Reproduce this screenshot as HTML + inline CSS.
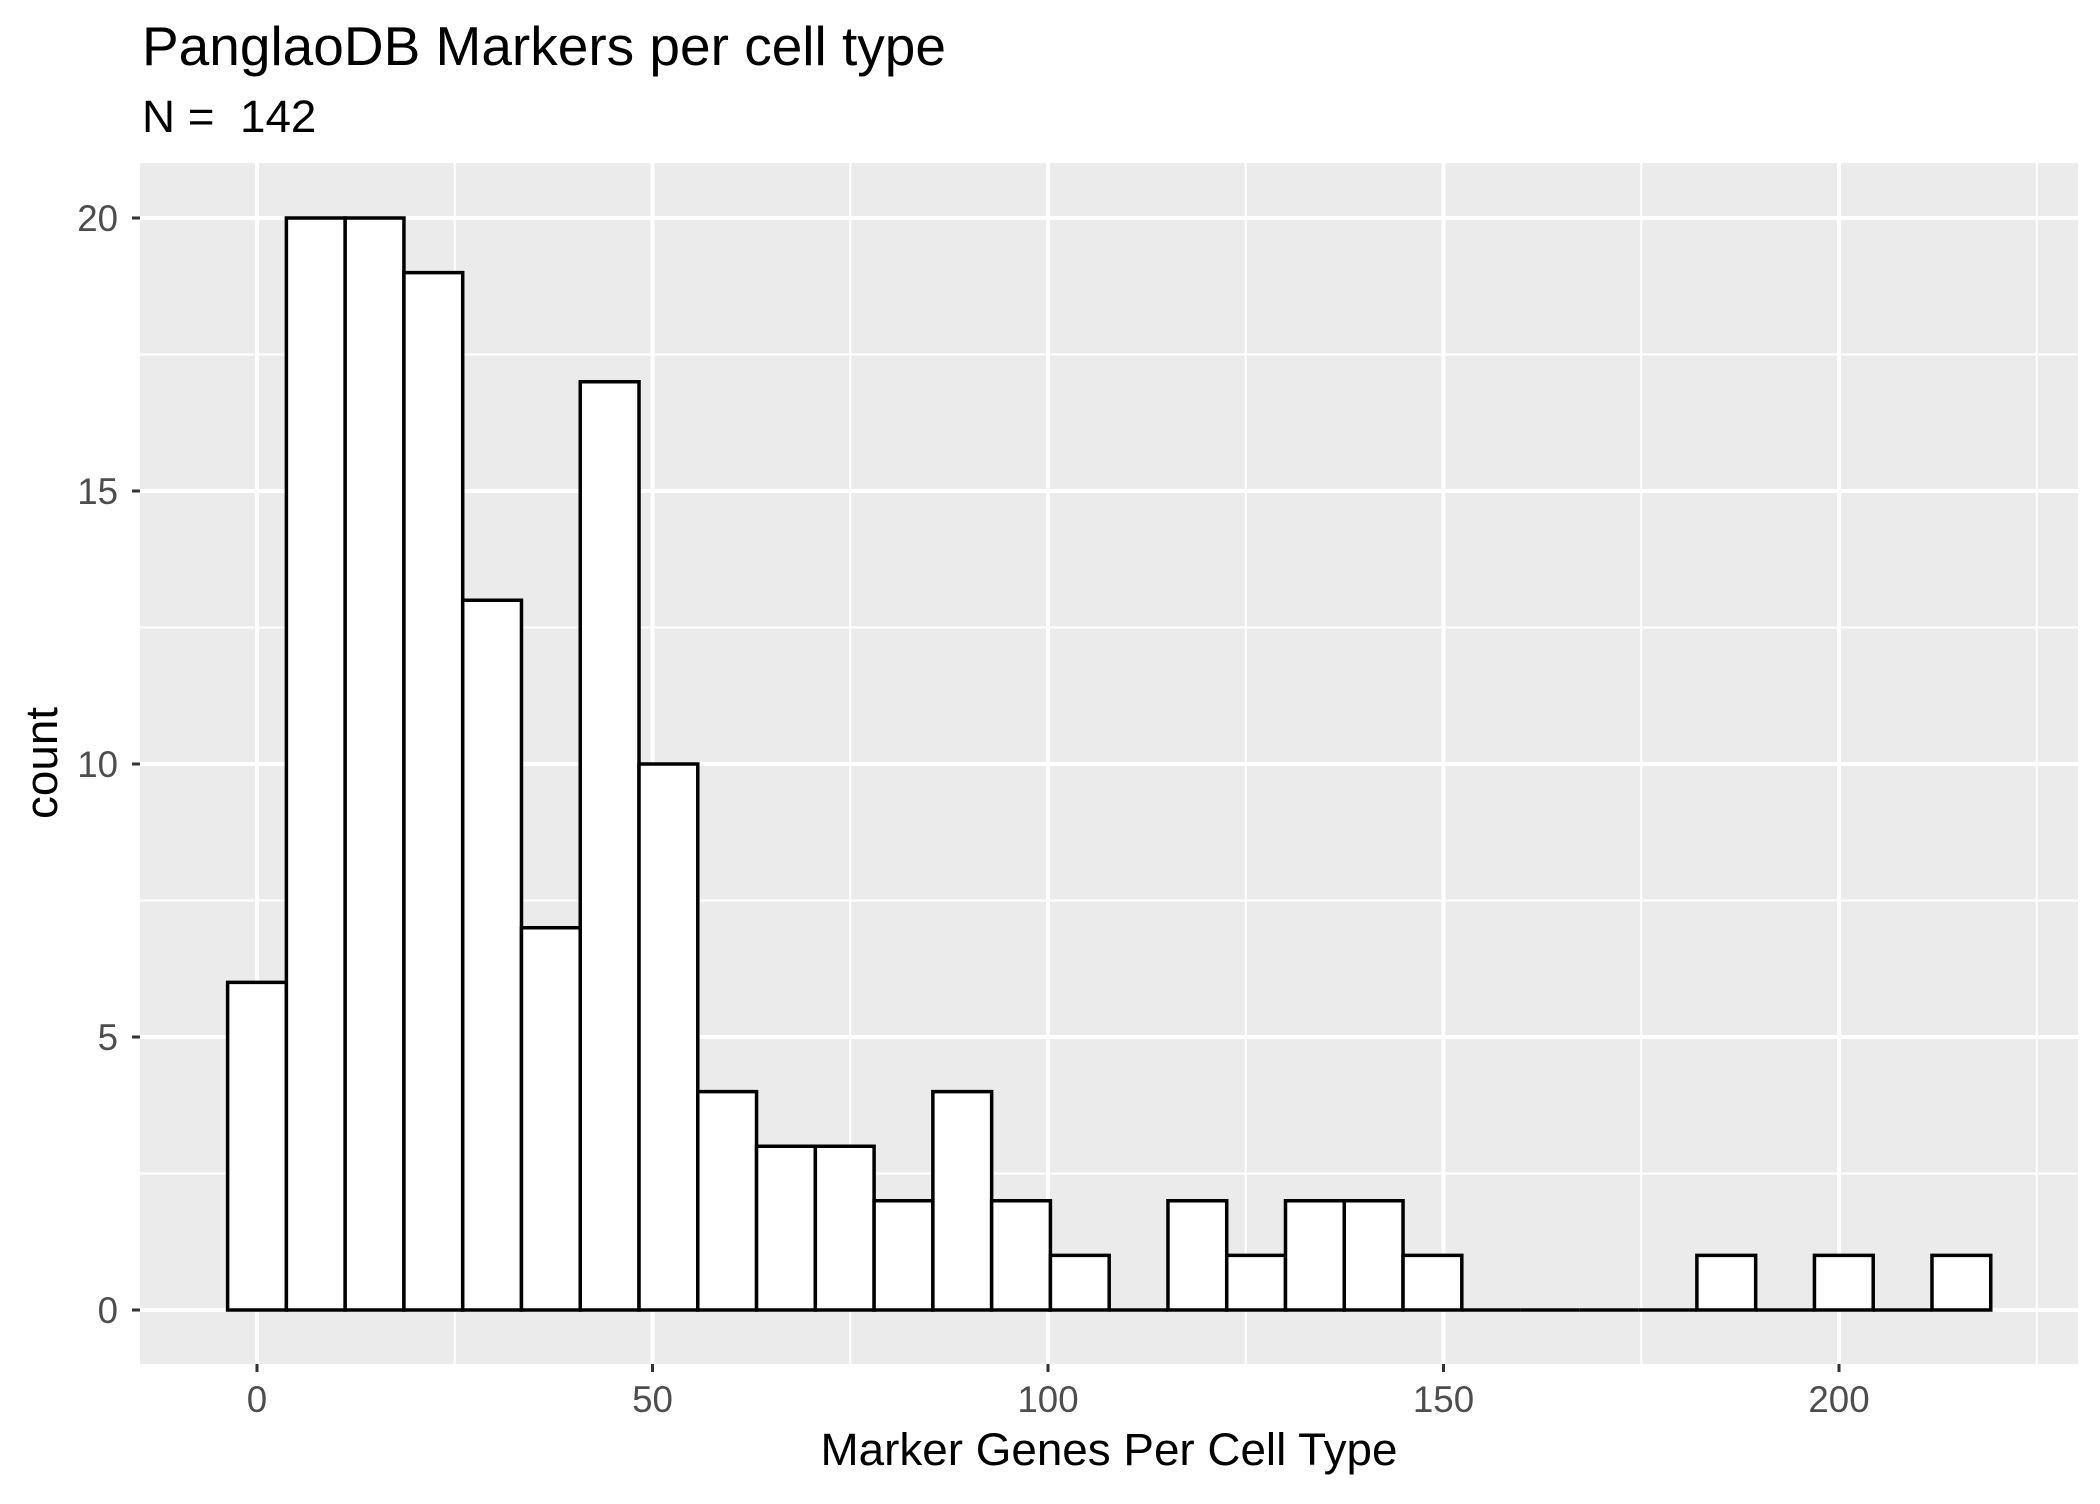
<!DOCTYPE html>
<html><head><meta charset="utf-8"><style>
html,body{margin:0;padding:0;background:#fff;}
svg text{font-family:"Liberation Sans",Arial,sans-serif;}
</style></head><body>
<svg id="chart" width="2100" height="1499" viewBox="0 0 2100 1499" xmlns="http://www.w3.org/2000/svg">
<rect width="2100" height="1499" fill="#fff"/>
<text x="142" y="65" font-size="55" fill="#000">PanglaoDB Markers per cell type</text>
<text x="142" y="132" font-size="45.8" fill="#000" xml:space="preserve">N =  142</text>
<rect x="140" y="163" width="1938" height="1201" fill="#ebebeb"/>
<g id="grid"></g>
<g id="bars"></g>
<g id="axes"></g>
<text x="1109" y="1465" font-size="45.8" text-anchor="middle" fill="#000">Marker Genes Per Cell Type</text>
<text transform="translate(57,763) rotate(-90)" font-size="45.8" text-anchor="middle" fill="#000">count</text>
</svg>
<script>
const counts = [6,20,20,19,13,7,17,10,4,3,3,2,4,2,1,0,2,1,2,2,1,0,0,0,0,1,0,1,0,1];
const binWidth = 7.43;
const xTicks = [0,50,100,150,200];
const xMinor = [25,75,125,175,225];
const yTicks = [0,5,10,15,20];
const yMinor = [2.5,7.5,12.5,17.5];

const NS = "http://www.w3.org/2000/svg";
const PL = 140, PR = 2078, PT = 163, PB = 1364;
function xs(v){ return 257 + v * 7.91; }
function ys(v){ return 1310 - v * 54.6; }
function mk(tag, attrs, parent){
  const e = document.createElementNS(NS, tag);
  for (const k in attrs) e.setAttribute(k, attrs[k]);
  parent.appendChild(e);
  return e;
}
const grid = document.getElementById('grid');
const bars = document.getElementById('bars');
const axes = document.getElementById('axes');

yMinor.forEach(v => {
  const l = mk('line', {x1:PL, x2:PR, y1:ys(v), y2:ys(v), stroke:'#fff', 'stroke-width':2}, grid);
  
  
});
xMinor.forEach(v => {
  const l = mk('line', {x1:xs(v), x2:xs(v), y1:PT, y2:PB, stroke:'#fff', 'stroke-width':2}, grid);
  
  
});
yTicks.forEach(v => {
  const l = mk('line', {x1:PL, x2:PR, y1:ys(v), y2:ys(v), stroke:'#fff', 'stroke-width':4}, grid);
  
  
  const t = mk('line', {x1:PL-8, x2:PL, y1:ys(v), y2:ys(v), stroke:'#333', 'stroke-width':3}, axes);
  
  
  const tx = mk('text', {x:PL-22, y:ys(v)+13, 'font-size':36.7, fill:'#4d4d4d', 'text-anchor':'end'}, axes);
  tx.textContent = v;
  
  
});
xTicks.forEach(v => {
  const l = mk('line', {x1:xs(v), x2:xs(v), y1:PT, y2:PB, stroke:'#fff', 'stroke-width':4}, grid);
  
  
  const t = mk('line', {x1:xs(v), x2:xs(v), y1:PB, y2:PB+8, stroke:'#333', 'stroke-width':3}, axes);
  
  
  const tx = mk('text', {x:xs(v), y:1412, 'font-size':36.7, fill:'#4d4d4d', 'text-anchor':'middle'}, axes);
  tx.textContent = v;
  
  
});
counts.forEach((c, i) => {
  const x0 = xs(i * binWidth - binWidth / 2), x1 = xs(i * binWidth + binWidth / 2);
  const y0 = ys(0), y1 = ys(c);
  const d = 'M' + x0 + ',' + y0 + ' L' + x0 + ',' + y1 + ' L' + x1 + ',' + y1 + ' L' + x1 + ',' + y0 + ' Z';
  const r = mk('path', {d:d, fill:'#fff', stroke:'#000', 'stroke-width':3.5, 'stroke-linejoin':'miter'}, bars);
  
  
});
</script>
</body></html>
